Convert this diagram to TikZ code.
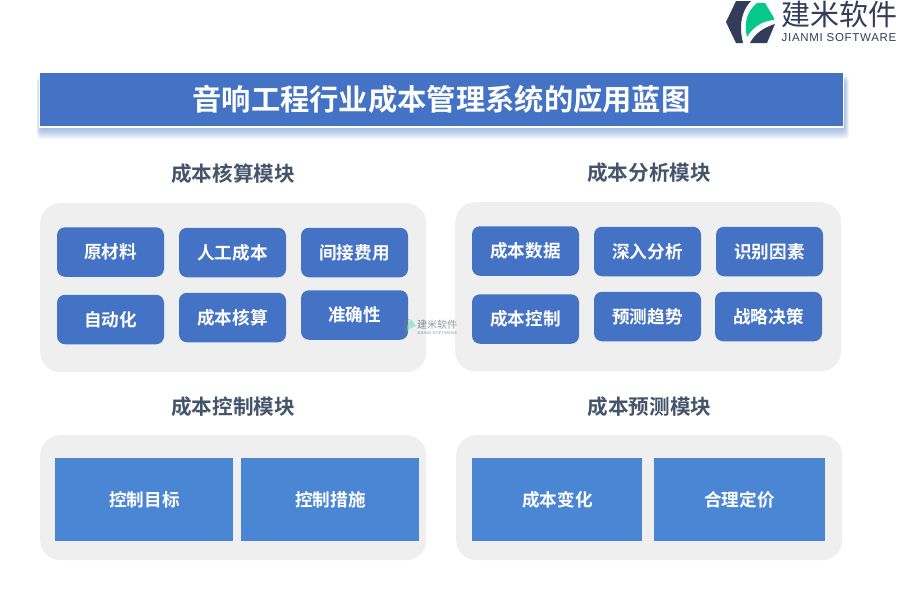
\documentclass[tikz,border=0pt]{standalone}
\usepackage{fontspec}
\setmainfont{Noto Sans CJK SC}[BoldFont={* Bold}]
\newfontfamily\latinf[LetterSpace=6]{Liberation Sans}
\definecolor{bluebox}{HTML}{4472C4}
\definecolor{blueflat}{HTML}{4A86D4}
\definecolor{panelgrey}{HTML}{EFEFEF}
\definecolor{headgrey}{HTML}{44546A}
\definecolor{logodark}{HTML}{333D5B}
\definecolor{logogreen}{HTML}{06C88A}
\tikzset{
  panel/.style={fill=panelgrey,draw=none,rounded corners=20pt,anchor=north west,inner sep=0pt},
  item/.style={fill=bluebox,draw=none,rounded corners=8pt,minimum width=107pt,minimum height=49.5pt,inner sep=0pt,text=white,font=\fontsize{17.6}{19}\selectfont\bfseries},
  flat/.style={fill=blueflat,draw=none,minimum height=83pt,inner sep=0pt,text=white,font=\fontsize{17.6}{19}\selectfont\bfseries},
  head/.style={text=headgrey,inner sep=0pt,font=\fontsize{20.6}{22}\selectfont\bfseries},
}
\begin{document}
\begin{tikzpicture}[x=1pt,y=-1pt]
\useasboundingbox (0,0) rectangle (900,600);
% title shadow
\foreach \d in {0,1,2,3,4,5,6,7,8,9,10}{
  \fill[bluebox,opacity=0.055,rounded corners=4pt] (37+\d*0.3,76+\d*0.4) rectangle (849-\d*0.5,139-\d);
}
\node[fill=bluebox,draw=white,line width=1.2pt,minimum width=804pt,minimum height=55pt,inner sep=0pt,text=white,font=\fontsize{29.3}{31}\selectfont\bfseries] (title) at (441.5,99.5) {音响工程行业成本管理系统的应用蓝图};
% panels
\node[panel,minimum width=386pt,minimum height=169pt] (p1) at (40,203) {};
\node[panel,minimum width=386pt,minimum height=169pt] (p2) at (455,202) {};
\node[panel,minimum width=386pt,minimum height=125pt] (p3) at (40,435) {};
\node[panel,minimum width=386pt,minimum height=125pt] (p4) at (456,435) {};
% heads
\node[head] (h1) at (233,173.5) {成本核算模块};
\node[head] (h2) at (649,172.5) {成本分析模块};
\node[head] (h3) at (233,407) {成本控制模块};
\node[head] (h4) at (649.5,406.5) {成本预测模块};
% items
\node[item] (a1) at (110.5,252) {原材料};
\node[item] (a2) at (232.5,252.5) {人工成本};
\node[item] (a3) at (354.5,252.5) {间接费用};
\node[item] (a4) at (110.5,319.5) {自动化};
\node[item] (a5) at (232.5,317.5) {成本核算};
\node[item] (a6) at (354.5,315) {准确性};
\node[item] (b1) at (525.5,251) {成本数据};
\node[item] (b2) at (647.5,251.5) {深入分析};
\node[item] (b3) at (769.5,251.5) {识别因素};
\node[item] (b4) at (525.5,319) {成本控制};
\node[item] (b5) at (647.5,316.5) {预测趋势};
\node[item] (b6) at (768.5,316.5) {战略决策};
% flats
\node[flat,minimum width=178pt] (c1) at (144,499.5) {\hspace{1pt}控制目标};
\node[flat,minimum width=178pt] (c2) at (330,499.5) {\hspace{1pt}控制措施};
\node[flat,minimum width=170pt] (d1) at (557,499.5) {\hspace{1pt}成本变化};
\node[flat,minimum width=171pt] (d2) at (739.5,499.5) {合理定价};
% logo
\fill[logodark] (736,1) -- (751,1) .. controls (743,9) and (738,23) .. (743,43) -- (736,43) -- (726,22) -- cycle;
\fill[logodark] (775,24) -- (767,43) -- (750,43) .. controls (755,33) and (765,27) .. (775,24) -- cycle;
\fill[logogreen] (757,3) -- (765,3) -- (774,18) -- (774,20) .. controls (762,21) and (753,27) .. (747,37) .. controls (744,24) and (746,12) .. (757,3) -- cycle;
\node[text=logodark,inner sep=0pt,font=\fontsize{29}{31}\selectfont] (lt) at (839.5,14) {建米软件};
\node[text=logodark,inner sep=0pt,font=\latinf\fontsize{11.5}{13}\selectfont] (ls) at (839,38) {JIANMI SOFTWARE};
% watermark
\begin{scope}[opacity=0.55]
\fill[logodark!70] (405,319) -- (409,319) -- (405,327) -- (408,333) -- (406,336) -- (402,327) -- cycle;
\fill[logogreen!60] (411,319) -- (416,326) .. controls (412,327) and (409,329) .. (407,331) .. controls (406,326) and (408,322) .. (411,319) -- cycle;
\node[text=logodark,inner sep=0pt,font=\fontsize{10}{11}\selectfont] (wm) at (437,325) {建米软件};
\node[text=logodark,inner sep=0pt,font=\latinf\fontsize{4}{5}\selectfont] (wms) at (437,333) {JIANMI SOFTWARE};
\end{scope}
\end{tikzpicture}
\end{document}
